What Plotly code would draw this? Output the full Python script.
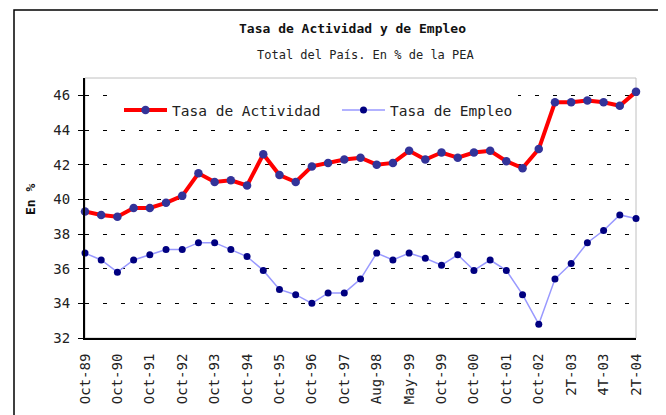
import plotly.graph_objects as go

periods = ["Oct-89", "May-90", "Oct-90", "May-91", "Oct-91", "May-92", "Oct-92", "May-93",
           "Oct-93", "May-94", "Oct-94", "May-95", "Oct-95", "May-96", "Oct-96", "May-97",
           "Oct-97", "May-98", "Aug-98", "Oct-98", "May-99", "Aug-99", "Oct-99", "May-00",
           "Oct-00", "May-01", "Oct-01", "May-02", "Oct-02", "1T-03", "2T-03", "3T-03",
           "4T-03", "1T-04", "2T-04"]

actividad = [39.3, 39.1, 39.0, 39.5, 39.5, 39.8, 40.2, 41.5, 41.0, 41.1, 40.8, 42.6,
             41.4, 41.0, 41.9, 42.1, 42.3, 42.4, 42.0, 42.1, 42.8, 42.3, 42.7, 42.4,
             42.7, 42.8, 42.2, 41.8, 42.9, 45.6, 45.6, 45.7, 45.6, 45.4, 46.2]

empleo = [36.9, 36.5, 35.8, 36.5, 36.8, 37.1, 37.1, 37.5, 37.5, 37.1, 36.7, 35.9,
          34.8, 34.5, 34.0, 34.6, 34.6, 35.4, 36.9, 36.5, 36.9, 36.6, 36.2, 36.8,
          35.9, 36.5, 35.9, 34.5, 32.8, 35.4, 36.3, 37.5, 38.2, 39.1, 38.9]

tick_labels = ["Oct-89", "Oct-90", "Oct-91", "Oct-92", "Oct-93", "Oct-94", "Oct-95",
               "Oct-96", "Oct-97", "Aug-98", "May-99", "Oct-99", "Oct-00", "Oct-01",
               "Oct-02", "2T-03", "4T-03", "2T-04"]

y_ticks = [32, 34, 36, 38, 40, 42, 44, 46]

FONT = "DejaVu Sans Mono, Liberation Mono, monospace"

fig = go.Figure()
fig.add_trace(go.Scatter(
    x=periods, y=actividad, mode="lines+markers", name="Tasa de Actividad",
    line=dict(color="#FF0000", width=4),
    marker=dict(color="#333399", size=8.5),
    cliponaxis=False, legend="legend",
))
fig.add_trace(go.Scatter(
    x=periods, y=empleo, mode="lines+markers", name="Tasa de Empleo",
    line=dict(color="#9999FF", width=1.5),
    marker=dict(color="#000080", size=7),
    cliponaxis=False, legend="legend2",
))

OFF = 8  # page body margin
W, H = 666 - OFF, 415 - OFF
L, R, T, B = 85 - OFF, 30, 78 - OFF, 77
pw, ph = W - L - R, H - T - B

def px_x(p):  # page pixel -> paper
    return (p - OFF - L) / pw

def px_y(p):
    return (H - B - (p - OFF)) / ph

legend_common = dict(
    orientation="h", yanchor="middle", xanchor="left",
    bgcolor="white", borderwidth=0, itemwidth=43,
    font=dict(family=FONT, size=14.5, color="#222222"),
)

fig.update_layout(
    width=W, height=H,
    margin=dict(l=L, r=R, t=T, b=B),
    paper_bgcolor="white", plot_bgcolor="white",
    font=dict(family=FONT, size=13, color="#222222"),
    showlegend=True,
    legend=dict(x=px_x(119), y=px_y(110), **legend_common),
    legend2=dict(x=px_x(337), y=px_y(110), **legend_common),
    xaxis=dict(
        type="category", range=[0, len(periods) - 1],
        tickmode="array", tickvals=periods[::2], ticktext=tick_labels,
        tickangle=-90, showgrid=False, zeroline=False,
        showline=True, linecolor="black", linewidth=2, ticks="",
        ticklabelstandoff=8,
        tickfont=dict(family=FONT, size=14, color="#222222"),
    ),
    yaxis=dict(
        range=[32, 47], tickmode="array", tickvals=y_ticks,
        showgrid=True, gridcolor="#000000", gridwidth=1, griddash="4px,14px",
        zeroline=False, showline=True, linecolor="black", linewidth=2,
        ticks="outside", ticklen=5, tickcolor="black",
        ticklabelstandoff=5,
        tickfont=dict(family=FONT, size=14, color="#222222"),
    ),
    shapes=[
        dict(type="rect", xref="paper", yref="paper", x0=0, x1=1, y0=0, y1=1,
             line=dict(color="#C0C0C0", width=1), layer="below"),
        dict(type="rect", xref="paper", yref="paper",
             x0=px_x(14), x1=px_x(700), y0=px_y(10), y1=px_y(460),
             line=dict(color="black", width=1.5), layer="below"),
    ],
    annotations=[
        dict(text="<b>Tasa de Actividad y de Empleo</b>", xref="paper", yref="paper",
             x=px_x(352), y=px_y(28), showarrow=False, xanchor="center", yanchor="middle",
             font=dict(family=FONT, size=13, color="#111111")),
        dict(text="Total del País. En % de la PEA", xref="paper", yref="paper",
             x=px_x(366), y=px_y(55), showarrow=False, xanchor="center", yanchor="middle",
             font=dict(family=FONT, size=12, color="#222222")),
        dict(text="<b>En %</b>", xref="paper", yref="paper", textangle=-90,
             x=px_x(30), y=px_y(200), showarrow=False, xanchor="center", yanchor="middle",
             font=dict(family=FONT, size=13, color="#111111")),
    ],
)

fig.write_html("out.html")
